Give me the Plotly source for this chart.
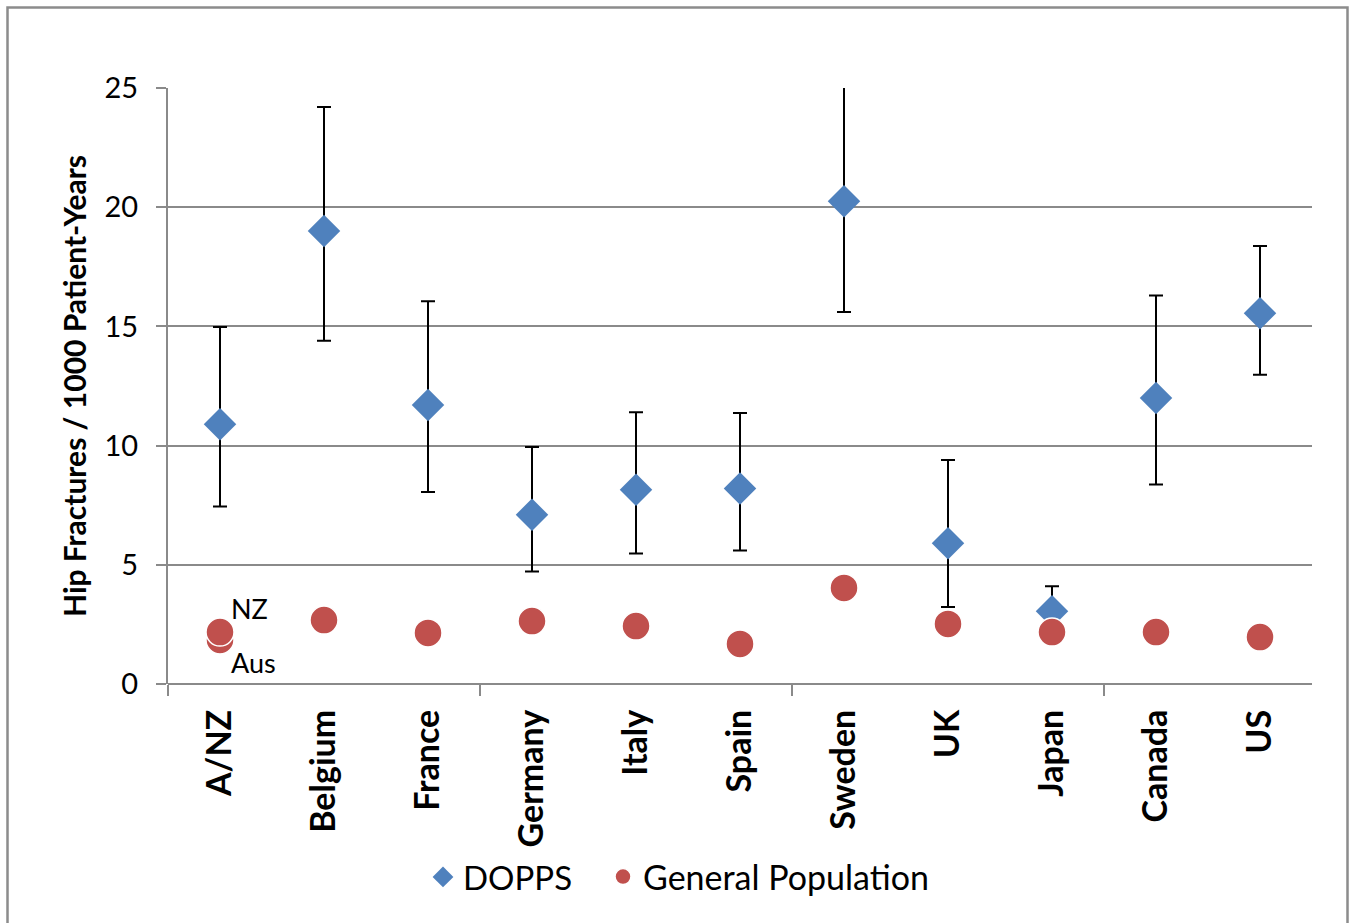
import plotly.graph_objects as go

countries = ["A/NZ", "Belgium", "France", "Germany", "Italy", "Spain",
             "Sweden", "UK", "Japan", "Canada", "US"]
dopps = [10.9, 19.0, 11.7, 7.1, 8.15, 8.2, 20.25, 5.9, 3.05, 12.0, 15.55]
dopps_upper = [14.97, 24.2, 16.05, 9.94, 11.4, 11.37, 26.5, 9.4, 4.1, 16.3, 18.37]
dopps_lower = [7.45, 14.4, 8.05, 4.72, 5.47, 5.6, 15.6, 3.23, 2.0, 8.37, 12.97]

gen_x = ["A/NZ", "A/NZ", "Belgium", "France", "Germany", "Italy", "Spain",
         "Sweden", "UK", "Japan", "Canada", "US"]
gen_labels = ["Aus", "NZ", "", "", "", "", "", "", "", "", "", ""]
gen_pop = [1.85, 2.18, 2.68, 2.14, 2.64, 2.43, 1.68, 4.03, 2.52, 2.18, 2.18, 1.97]

yticks = [0, 5, 10, 15, 20, 25]
boundary_ticks = [-0.5, 2.5, 5.5, 8.5]

FONT = "Lato"
GRID = "#8a8a8a"
BLUE = "#4F81BD"
RED = "#C0504D"

fig = go.Figure()

fig.add_trace(go.Scatter(
    x=countries, y=dopps, mode="markers", name="DOPPS", legend="legend",
    marker=dict(symbol="diamond", size=25, color=BLUE),
    error_y=dict(type="data", symmetric=False,
                 array=[u - v for u, v in zip(dopps_upper, dopps)],
                 arrayminus=[v - l for v, l in zip(dopps, dopps_lower)],
                 color="black", thickness=2, width=7),
))

fig.add_trace(go.Scatter(
    x=gen_x, y=gen_pop, mode="markers", name="General Population", legend="legend2",
    marker=dict(symbol="circle", size=28, color=RED,
                line=dict(color="white", width=1.5)),
))

# invisible trace on the overlay axis for boundary ticks
fig.add_trace(go.Scatter(x=[None], y=[None], xaxis="x2", showlegend=False,
                         hoverinfo="skip"))

for lab, yv, dy in [("NZ", gen_pop[1], 1.0), ("Aus", gen_pop[0], -0.93)]:
    fig.add_annotation(x=0, y=yv + dy, text=lab, showarrow=False,
                       xanchor="left", yanchor="middle", xshift=9,
                       font=dict(family=FONT, size=27, color="black"))

px_l, px_r, px_t, px_b = 168, 1312, 88, 684
W, H = 1355, 923

def paper_x(px):
    return (px - px_l) / (px_r - px_l)

def paper_y(py):
    return (px_b - py) / (px_b - px_t)

fig.add_shape(type="rect", xref="paper", yref="paper",
              x0=paper_x(7.5), x1=paper_x(1347.5), y0=paper_y(1000), y1=paper_y(7.5),
              line=dict(color="#8c8c8c", width=2.5), fillcolor="rgba(0,0,0,0)",
              layer="below")

fig.update_layout(
    width=W, height=H,
    margin=dict(l=px_l, r=W - px_r, t=px_t, b=H - px_b),
    paper_bgcolor="white", plot_bgcolor="white",
    font=dict(family=FONT, color="black"),
    showlegend=True,
    legend=dict(orientation="h", x=paper_x(423), xanchor="left", y=paper_y(877),
                yanchor="middle", font=dict(family=FONT, size=33),
                itemwidth=30),
    legend2=dict(orientation="h", x=paper_x(603), xanchor="left", y=paper_y(877),
                 yanchor="middle", font=dict(family=FONT, size=34),
                 itemwidth=30),
    xaxis=dict(type="category", categoryorder="array", categoryarray=countries,
               range=[-0.5, 10.5], showgrid=False, ticks="",
               tickangle=-90, tickfont=dict(family=FONT, size=34, color="black",
                                            weight="bold"),
               showline=False, zeroline=False, ticklabelstandoff=18),
    xaxis2=dict(overlaying="x", anchor="y", side="bottom", range=[-0.5, 10.5],
                tickmode="array", tickvals=boundary_ticks, ticks="outside",
                ticklen=11, tickwidth=2, tickcolor=GRID, showticklabels=False,
                showgrid=False, zeroline=False, showline=False),
    yaxis=dict(range=[0, 25], tickmode="array", tickvals=yticks,
               showgrid=True, gridcolor=GRID, gridwidth=2,
               zeroline=True, zerolinecolor=GRID, zerolinewidth=2,
               showline=True, linecolor=GRID, linewidth=2,
               ticks="outside", ticklen=10, tickwidth=2, tickcolor=GRID,
               tickfont=dict(family=FONT, size=29, color="black"),
               ticklabelstandoff=12,
               title=dict(text="Hip Fractures / 1000 Patient-Years", standoff=9,
                          font=dict(family=FONT, size=30, color="black",
                                    weight="bold"))),
)

fig.write_html("out.html")
